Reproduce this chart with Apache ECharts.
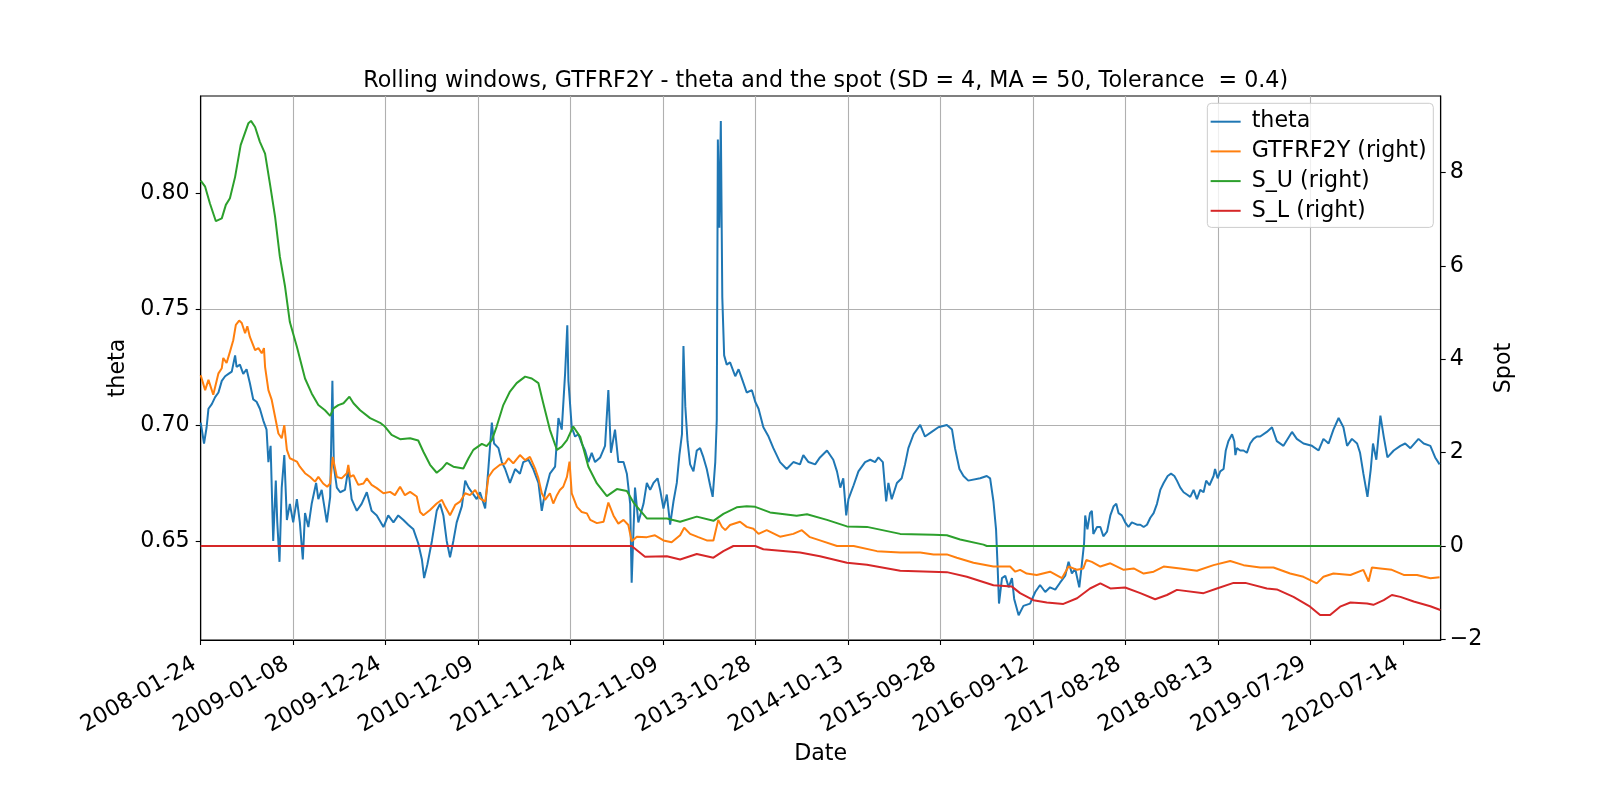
<!DOCTYPE html>
<html>
<head>
<meta charset="utf-8">
<script src="https://cdn.jsdelivr.net/npm/echarts@6/dist/echarts.min.js"></script>
<style>
html,body{margin:0;padding:0;background:#fff;}
#chart{width:1600px;height:800px;}
</style>
</head>
<body>
<div id="chart"></div>
<script>
// x values are row positions (business-day index); one labelled tick every 250 rows
const tickLabels = ['2008-01-24','2009-01-08','2009-12-24','2010-12-09','2011-11-24','2012-11-09','2013-10-28','2014-10-13','2015-09-28','2016-09-12','2017-08-28','2018-08-13','2019-07-29','2020-07-14'];
const rowsPerTick = 250;
const lastRow = 3352;

const theta = [[0,0.701],[9,0.692],[16,0.699],[21,0.707],[30,0.709],[39,0.712],[48,0.714],[57,0.719],[66,0.721],[75,0.722],[84,0.723],[93,0.730],[97,0.725],[106,0.726],[115,0.722],[124,0.724],[133,0.718],[142,0.711],[151,0.710],[160,0.707],[169,0.702],[178,0.698],[183,0.684],[189,0.691],[196,0.650],[203,0.676],[207,0.658],[213,0.641],[219,0.673],[226,0.687],[233,0.659],[241,0.666],[250,0.658],[260,0.668],[268,0.658],[276,0.642],[282,0.662],[291,0.656],[300,0.666],[312,0.675],[318,0.668],[327,0.672],[341,0.658],[350,0.669],[356,0.719],[360,0.682],[368,0.673],[377,0.671],[390,0.672],[399,0.681],[408,0.668],[422,0.663],[435,0.666],[449,0.671],[462,0.663],[476,0.661],[494,0.656],[507,0.661],[521,0.658],[534,0.661],[548,0.659],[561,0.657],[575,0.655],[588,0.649],[598,0.642],[604,0.634],[613,0.640],[625,0.650],[638,0.663],[647,0.666],[656,0.661],[665,0.650],[674,0.643],[683,0.650],[692,0.658],[706,0.665],[715,0.676],[724,0.673],[733,0.671],[746,0.668],[755,0.671],[769,0.664],[778,0.682],[787,0.701],[793,0.692],[805,0.690],[814,0.684],[823,0.681],[836,0.675],[850,0.681],[863,0.679],[872,0.684],[886,0.685],[899,0.681],[913,0.675],[922,0.663],[931,0.671],[944,0.679],[958,0.682],[967,0.703],[976,0.698],[985,0.722],[991,0.743],[994,0.719],[1003,0.699],[1012,0.695],[1021,0.696],[1030,0.692],[1039,0.689],[1048,0.684],[1057,0.688],[1066,0.684],[1080,0.686],[1093,0.691],[1102,0.715],[1109,0.688],[1120,0.698],[1129,0.684],[1143,0.684],[1152,0.679],[1161,0.666],[1165,0.632],[1174,0.673],[1183,0.658],[1197,0.666],[1206,0.675],[1215,0.672],[1224,0.675],[1235,0.677],[1242,0.672],[1251,0.664],[1260,0.670],[1269,0.657],[1278,0.667],[1287,0.675],[1294,0.687],[1301,0.696],[1305,0.734],[1310,0.708],[1316,0.693],[1323,0.683],[1332,0.680],[1341,0.689],[1350,0.690],[1359,0.686],[1368,0.681],[1377,0.674],[1384,0.669],[1391,0.684],[1395,0.702],[1398,0.823],[1402,0.785],[1406,0.831],[1410,0.755],[1415,0.730],[1422,0.726],[1431,0.727],[1445,0.721],[1454,0.724],[1463,0.720],[1476,0.714],[1490,0.715],[1499,0.710],[1508,0.707],[1521,0.699],[1535,0.695],[1548,0.690],[1566,0.684],[1584,0.681],[1602,0.684],[1620,0.683],[1629,0.687],[1643,0.684],[1661,0.683],[1674,0.686],[1693,0.689],[1710,0.685],[1720,0.680],[1729,0.673],[1737,0.677],[1745,0.661],[1751,0.668],[1765,0.674],[1778,0.680],[1796,0.684],[1810,0.685],[1823,0.684],[1832,0.686],[1844,0.684],[1853,0.667],[1859,0.675],[1868,0.668],[1882,0.675],[1895,0.677],[1904,0.683],[1913,0.690],[1927,0.696],[1945,0.700],[1958,0.695],[1976,0.697],[1994,0.699],[2017,0.700],[2031,0.698],[2039,0.690],[2051,0.681],[2062,0.678],[2075,0.676],[2107,0.677],[2125,0.678],[2134,0.677],[2143,0.667],[2150,0.655],[2154,0.640],[2158,0.623],[2166,0.634],[2175,0.635],[2184,0.630],[2193,0.634],[2199,0.625],[2211,0.618],[2224,0.622],[2242,0.623],[2256,0.628],[2269,0.631],[2283,0.628],[2296,0.630],[2310,0.629],[2323,0.632],[2337,0.635],[2346,0.641],[2355,0.636],[2364,0.638],[2375,0.630],[2382,0.640],[2388,0.649],[2391,0.661],[2397,0.655],[2404,0.662],[2409,0.663],[2413,0.653],[2423,0.656],[2432,0.656],[2440,0.652],[2450,0.654],[2459,0.661],[2468,0.665],[2475,0.666],[2481,0.662],[2490,0.661],[2499,0.658],[2508,0.656],[2517,0.658],[2531,0.657],[2540,0.657],[2549,0.656],[2558,0.657],[2567,0.660],[2576,0.662],[2585,0.666],[2594,0.672],[2603,0.675],[2614,0.678],[2623,0.679],[2632,0.678],[2639,0.676],[2648,0.673],[2657,0.671],[2666,0.670],[2675,0.669],[2684,0.672],[2693,0.668],[2702,0.672],[2711,0.671],[2718,0.676],[2727,0.674],[2738,0.678],[2742,0.681],[2749,0.677],[2756,0.680],[2765,0.681],[2771,0.689],[2778,0.693],[2788,0.696],[2794,0.693],[2797,0.687],[2801,0.690],[2810,0.689],[2819,0.689],[2828,0.688],[2837,0.692],[2846,0.694],[2855,0.695],[2864,0.695],[2882,0.697],[2896,0.699],[2909,0.693],[2927,0.691],[2950,0.697],[2963,0.694],[2981,0.692],[3004,0.691],[3022,0.689],[3035,0.694],[3049,0.692],[3062,0.698],[3076,0.703],[3089,0.699],[3099,0.691],[3112,0.694],[3126,0.692],[3134,0.688],[3143,0.679],[3154,0.669],[3163,0.681],[3169,0.692],[3178,0.685],[3189,0.704],[3198,0.695],[3208,0.686],[3225,0.689],[3243,0.691],[3256,0.692],[3270,0.690],[3292,0.694],[3306,0.692],[3324,0.691],[3337,0.686],[3349,0.683]];

const spot = [[0,3.66],[12,3.34],[21,3.56],[34,3.24],[48,3.70],[57,3.81],[61,4.03],[70,3.92],[79,4.16],[88,4.41],[95,4.74],[104,4.83],[111,4.78],[120,4.56],[126,4.71],[133,4.48],[147,4.20],[156,4.24],[165,4.13],[171,4.24],[174,3.84],[183,3.34],[192,3.13],[201,2.77],[210,2.41],[219,2.31],[226,2.59],[233,2.06],[241,1.88],[260,1.81],[268,1.70],[282,1.56],[296,1.48],[309,1.38],[318,1.48],[331,1.34],[342,1.27],[350,1.34],[357,1.91],[368,1.48],[381,1.45],[395,1.56],[399,1.74],[404,1.48],[413,1.52],[426,1.31],[440,1.34],[449,1.45],[462,1.31],[476,1.24],[494,1.13],[512,1.16],[525,1.09],[539,1.27],[552,1.09],[566,1.16],[584,1.06],[593,0.73],[602,0.66],[620,0.77],[638,0.91],[652,0.99],[661,0.84],[674,0.66],[688,0.88],[701,0.95],[715,1.13],[728,1.09],[742,1.20],[755,1.02],[769,0.95],[778,1.48],[791,1.63],[809,1.74],[823,1.77],[832,1.88],[845,1.77],[863,1.95],[877,1.84],[890,1.91],[904,1.66],[913,1.45],[922,1.13],[931,0.99],[944,1.13],[953,0.91],[963,1.09],[971,1.20],[980,1.27],[990,1.48],[997,1.81],[1003,1.13],[1017,0.84],[1030,0.73],[1044,0.70],[1053,0.56],[1071,0.49],[1089,0.52],[1102,0.93],[1116,0.65],[1129,0.48],[1143,0.56],[1156,0.45],[1165,0.10],[1179,0.20],[1206,0.19],[1228,0.23],[1251,0.12],[1273,0.08],[1296,0.23],[1307,0.39],[1323,0.26],[1345,0.19],[1368,0.12],[1386,0.12],[1399,0.56],[1409,0.41],[1418,0.34],[1431,0.45],[1458,0.52],[1476,0.41],[1494,0.37],[1508,0.26],[1530,0.34],[1566,0.20],[1602,0.26],[1625,0.34],[1647,0.19],[1674,0.12],[1720,0.00],[1765,0.00],[1828,-0.11],[1891,-0.14],[1945,-0.14],[1981,-0.18],[2017,-0.18],[2044,-0.25],[2089,-0.36],[2143,-0.44],[2188,-0.44],[2202,-0.55],[2215,-0.51],[2233,-0.59],[2260,-0.62],[2296,-0.55],[2328,-0.69],[2346,-0.44],[2369,-0.51],[2386,-0.48],[2394,-0.30],[2409,-0.34],[2432,-0.44],[2459,-0.37],[2495,-0.51],[2522,-0.48],[2549,-0.59],[2576,-0.55],[2603,-0.44],[2648,-0.48],[2693,-0.53],[2738,-0.41],[2783,-0.32],[2819,-0.41],[2864,-0.46],[2900,-0.46],[2945,-0.59],[2981,-0.66],[3017,-0.80],[3035,-0.66],[3062,-0.59],[3108,-0.62],[3143,-0.51],[3157,-0.76],[3166,-0.46],[3189,-0.48],[3220,-0.51],[3252,-0.62],[3288,-0.62],[3324,-0.69],[3349,-0.67]];

const sUpper = [[0,7.83],[12,7.70],[25,7.34],[41,6.96],[57,7.02],[68,7.31],[79,7.45],[93,7.91],[108,8.59],[129,9.06],[136,9.11],[147,8.98],[160,8.66],[174,8.41],[187,7.77],[201,7.06],[214,6.20],[228,5.56],[241,4.80],[260,4.27],[282,3.59],[300,3.27],[318,3.02],[336,2.91],[350,2.79],[359,2.95],[372,3.02],[386,3.06],[402,3.20],[413,3.06],[431,2.91],[458,2.74],[485,2.64],[498,2.56],[516,2.38],[539,2.29],[566,2.31],[588,2.26],[602,2.02],[620,1.74],[638,1.57],[652,1.66],[665,1.78],[683,1.70],[710,1.66],[724,1.88],[737,2.06],[760,2.19],[773,2.14],[787,2.27],[800,2.56],[818,3.02],[836,3.31],[854,3.49],[877,3.63],[895,3.59],[913,3.49],[926,3.06],[944,2.49],[963,2.06],[976,2.13],[990,2.27],[1007,2.56],[1026,2.34],[1048,1.70],[1071,1.34],[1098,1.07],[1125,1.22],[1152,1.18],[1170,0.93],[1206,0.59],[1260,0.59],[1296,0.52],[1341,0.63],[1386,0.54],[1413,0.69],[1449,0.83],[1476,0.85],[1499,0.84],[1539,0.72],[1611,0.65],[1639,0.68],[1693,0.56],[1747,0.42],[1801,0.41],[1891,0.26],[1981,0.24],[2017,0.23],[2053,0.14],[2116,0.03],[2125,0],[3352,0]];

const sLower = [[0,0],[1165,0],[1201,-0.23],[1260,-0.22],[1296,-0.29],[1341,-0.17],[1386,-0.25],[1413,-0.11],[1440,0],[1499,0],[1521,-0.07],[1620,-0.14],[1674,-0.22],[1747,-0.36],[1801,-0.40],[1891,-0.53],[2017,-0.56],[2071,-0.66],[2143,-0.84],[2193,-0.87],[2215,-1.01],[2251,-1.16],[2287,-1.21],[2332,-1.24],[2369,-1.12],[2404,-0.91],[2432,-0.80],[2459,-0.91],[2499,-0.89],[2540,-1.01],[2580,-1.14],[2612,-1.05],[2639,-0.94],[2711,-1.01],[2747,-0.91],[2792,-0.79],[2824,-0.79],[2882,-0.91],[2909,-0.93],[2954,-1.09],[2999,-1.30],[3026,-1.48],[3053,-1.48],[3080,-1.30],[3108,-1.21],[3153,-1.23],[3170,-1.26],[3198,-1.16],[3220,-1.05],[3243,-1.09],[3279,-1.19],[3324,-1.29],[3351,-1.37]];

const thetaTicks = [0.65, 0.70, 0.75, 0.80];
const spotTicks = [-2, 0, 2, 4, 6, 8];

const FONT = 'DejaVu Sans';
const FS = 22.2;
const xTickValues = tickLabels.map((_, i) => i * rowsPerTick);

const chart = echarts.init(document.getElementById('chart'), null, {renderer: 'canvas'});
const lineSeries = (name, data, color, axis) => ({
  name, type: 'line', data, yAxisIndex: axis, symbol: 'none', showSymbol: false,
  lineStyle: {color, width: 2}, itemStyle: {color}, emphasis: {disabled: true}, animation: false
});

chart.setOption({
  animation: false,
  backgroundColor: '#ffffff',
  textStyle: {fontFamily: FONT},
  title: {
    text: 'Rolling windows, GTFRF2Y - theta and the spot (SD = 4, MA = 50, Tolerance  = 0.4)',
    left: 820.7, top: 65, textAlign: 'center',
    textStyle: {fontFamily: FONT, fontSize: FS, fontWeight: 'normal', color: '#000'}
  },
  legend: {
    orient: 'vertical', right: 166.7, top: 103.3,
    icon: 'rect', itemWidth: 30, itemHeight: 2, itemGap: 5.7,
    padding: [6.4, 6.6, 4.6, 3.3],
    backgroundColor: 'rgba(255,255,255,0.8)', borderColor: '#cccccc', borderWidth: 1, borderRadius: 4,
    textStyle: {fontFamily: FONT, fontSize: FS, color: '#000', lineHeight: 24, padding: [0, 0, 0, 6]},
    data: ['theta', 'GTFRF2Y (right)', 'S_U (right)', 'S_L (right)']
  },
  grid: {left: 200.7, right: 159.3, top: 96, bottom: 160, show: true, borderColor: '#000', borderWidth: 1.1, backgroundColor: 'transparent', containLabel: false},
  xAxis: {
    type: 'value', min: 0, max: lastRow, interval: rowsPerTick,
    name: 'Date', nameLocation: 'middle', nameGap: 98,
    nameTextStyle: {fontFamily: FONT, fontSize: FS, color: '#000'},
    axisLine: {show: true, onZero: false, lineStyle: {color: '#000', width: 1.1}},
    axisTick: {show: true, inside: false, length: 5, lineStyle: {color: '#000', width: 1.1}, customValues: xTickValues},
    axisLabel: {
      rotate: 30, margin: 19, padding: [0, 7, 0, 0], color: '#000', fontFamily: FONT, fontSize: FS,
      customValues: xTickValues, showMinLabel: true, showMaxLabel: true, hideOverlap: false,
      formatter: v => { const i = Math.round(v / rowsPerTick); return Math.abs(v - i * rowsPerTick) < 1e-6 && tickLabels[i] ? tickLabels[i] : ''; }
    },
    splitLine: {show: true, showMinLine: false, showMaxLine: false, lineStyle: {color: '#b0b0b0', width: 1.1}}
  },
  yAxis: [{
    type: 'value', position: 'left', min: 0.6073, max: 0.8418, splitNumber: 5,
    name: 'theta', nameLocation: 'middle', nameRotate: 90, nameGap: 65,
    nameTextStyle: {fontFamily: FONT, fontSize: FS, color: '#000'},
    axisLine: {show: true, onZero: false, lineStyle: {color: '#000', width: 1.1}},
    axisTick: {show: true, inside: false, length: 5, lineStyle: {color: '#000', width: 1.1}, customValues: thetaTicks},
    axisLabel: {
      margin: 11, color: '#000', fontFamily: FONT, fontSize: FS, customValues: thetaTicks,
      formatter: v => { const k = Math.round(v / 0.05); return Math.abs(v - k * 0.05) < 1e-6 ? v.toFixed(2) : ''; }
    },
    splitLine: {show: true, showMinLine: false, showMaxLine: false, lineStyle: {color: '#b0b0b0', width: 1.1}}
  }, {
    type: 'value', position: 'right', min: -2.014, max: 9.643, splitNumber: 5,
    name: 'Spot', nameLocation: 'middle', nameRotate: 90, nameGap: 45,
    nameTextStyle: {fontFamily: FONT, fontSize: FS, color: '#000'},
    axisLine: {show: true, onZero: false, lineStyle: {color: '#000', width: 1.1}},
    axisTick: {show: true, inside: false, length: 5, lineStyle: {color: '#000', width: 1.1}, customValues: spotTicks},
    axisLabel: {
      margin: 9, color: '#000', fontFamily: FONT, fontSize: FS, customValues: spotTicks,
      formatter: v => { if (Math.abs(v - Math.round(v)) > 1e-6 || Math.round(v) % 2 !== 0) return ''; return v < 0 ? '\u2212' + Math.abs(v) : String(v); }
    },
    splitLine: {show: false}
  }],
  series: [
    lineSeries('theta', theta, '#1f77b4', 0),
    lineSeries('GTFRF2Y (right)', spot, '#ff7f0e', 1),
    lineSeries('S_U (right)', sUpper, '#2ca02c', 1),
    lineSeries('S_L (right)', sLower, '#d62728', 1)
  ]
});
</script>
</body>
</html>
